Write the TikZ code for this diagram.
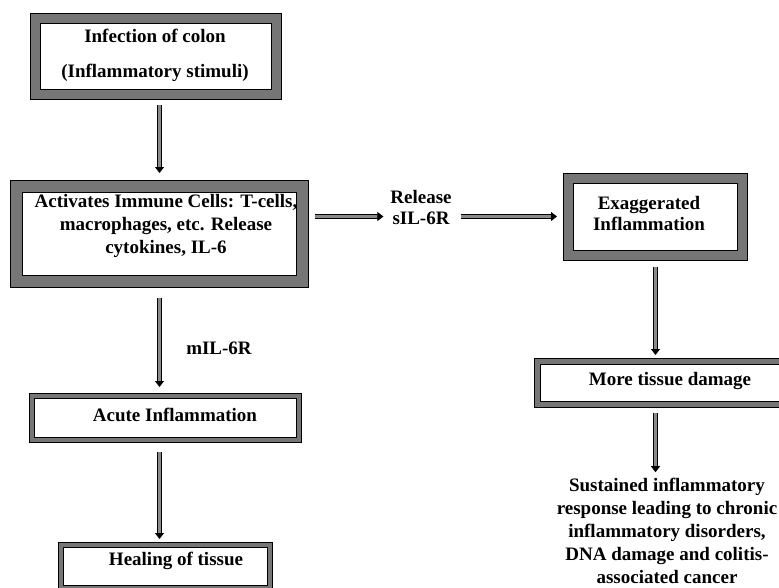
\documentclass[tikz,border=0pt]{standalone}
\usepackage{fontspec}
\setmainfont{Liberation Serif}
\usetikzlibrary{arrows.meta,calc}
\definecolor{framegray}{HTML}{767676}
\definecolor{arrowgray}{HTML}{8A8A8A}
\begin{document}
\begin{tikzpicture}[x=1pt,y=-1pt,
  frame/.style={draw=black, line width=1pt, double=framegray, fill=white, inner sep=0pt, outer sep=0pt, rectangle},
  txt/.style={inner sep=0pt, outer sep=0pt, align=center, font=\fontsize{19}{23}\selectfont\bfseries},
  arr/.style={draw=black, line width=0.9pt, double=arrowgray, double distance=2.6pt, -{Triangle[length=6pt,width=9pt]}}
]
\useasboundingbox (0,0) rectangle (779,587);
\fill[white] (0,0) rectangle (779,587);
\clip (0,0) rectangle (779,587);

% frames
\node[frame, double distance=9pt, minimum width=241.5pt, minimum height=76pt] (b1) at (156,56.5) {};
\node[frame, double distance=11pt, minimum width=286pt, minimum height=94.5pt] (b2) at (159.5,233.75) {};
\node[frame, double distance=9pt, minimum width=174pt, minimum height=77pt] (b3) at (655.5,216.5) {};
\node[frame, double distance=5pt, minimum width=265pt, minimum height=42.5pt] (b4) at (670,382.75) {};
\node[frame, double distance=4pt, minimum width=267pt, minimum height=43.5pt] (b5) at (165.5,417.75) {};
\node[frame, double distance=4pt, minimum width=209pt, minimum height=43pt] (b6) at (165.5,566.5) {};

% texts
\node[txt] (t1) at (155,55.5) {Infection of colon\\[12pt](Inflammatory stimuli)};
\node[txt] (t2) at (166,226) {Activates Immune Cells: T-cells,\\macrophages, etc. Release\\cytokines, IL-6};
\node[txt, font=\fontsize{19}{21}\selectfont\bfseries] (t3) at (649,213) {Exaggerated\\Inflammation};
\node[txt] (t4) at (670,381) {More tissue damage};
\node[txt] (t5) at (175,415) {Acute Inflammation};
\node[txt] (t6) at (176,561) {Healing of tissue};
\node[txt, font=\fontsize{19}{21}\selectfont\bfseries] (rel) at (421,207) {Release\\sIL-6R};
\node[txt] (m) at (219,348) {mIL-6R};
\node[txt] (sus) at (667,531) {Sustained inflammatory\\response leading to chronic\\inflammatory disorders,\\DNA damage and colitis-\\associated cancer};

% connectors
\draw[arr, shorten <=10.5pt, shorten >=13.5pt] (b1.south -| b2.north) -- (b2.north);
\draw[arr, shorten <=12.5pt, shorten >=7pt] (b2.east |- b3.west) -- (rel.west |- b3.west);
\draw[arr, shorten <=9pt, shorten >=11.5pt] (rel.east |- b3.west) -- (b3.west);
\draw[arr, shorten <=17pt, shorten >=9pt] (b2.south) -- (b2.south |- b5.north);
\draw[arr, shorten <=12.5pt, shorten >=6pt] (b2.south |- b5.south) -- (b2.south |- b6.north);
\draw[arr, shorten <=12pt, shorten >=6.5pt] (b3.south) -- (b3.south |- b4.north);
\draw[arr, shorten <=9pt, shorten >=6pt] (b3.south |- b4.south) -- (b3.south |- sus.north);
\end{tikzpicture}
\end{document}
